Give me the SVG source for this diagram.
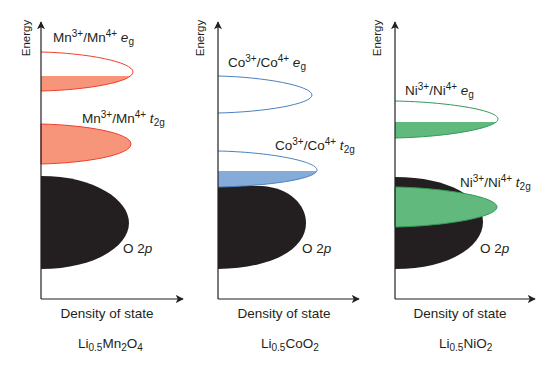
<svg xmlns="http://www.w3.org/2000/svg" width="552" height="368" viewBox="0 0 552 368">
<style>
text{font-family:"Liberation Sans",Arial,sans-serif;fill:#231f20}
.lbl{font-size:13.5px}
.en{font-size:11.5px}
.ax{stroke:#231f20;stroke-width:1.2;fill:none}
.red{stroke:#f0402e;stroke-width:1}
.blue{stroke:#4a80c2;stroke-width:1}
.green{stroke:#2f9a55;stroke-width:1}
.fred{fill:#f7957a}
.fblue{fill:#85acd9}
.fgreen{fill:#62b97d}
.dark{fill:#231f20}
.s{font-size:10px}
</style>
<defs>
<marker id="arr" viewBox="0 0 10 10" refX="9" refY="5" markerWidth="8" markerHeight="8" markerUnits="userSpaceOnUse" orient="auto">
<path d="M0,0 L10,5 L0,10 L2.5,5 Z" fill="#231f20"/>
</marker>
<clipPath id="c1"><rect x="0" y="76" width="200" height="20"/></clipPath>
<clipPath id="c2"><rect x="200" y="171" width="200" height="20"/></clipPath>
<clipPath id="c3"><rect x="380" y="122" width="200" height="20"/></clipPath>
</defs>

<g id="panel-mn">
<path class="dark" d="M41,176 C95,176 129,200 129,223 C129,246 95,269 41,269 Z"/>
<path class="fred" clip-path="url(#c1)" d="M41,52 C87,53 133,62 133,72 C133,82 87,90 41,91 Z"/>
<path class="red" fill="none" d="M41,52 C87,53 133,62 133,72 C133,82 87,90 41,91"/>
<path class="fred red" d="M41,124 C86,125 131,133 131,144 C131,155 86,163 41,164 Z"/>
<text class="lbl" x="53" y="42">Mn<tspan class="s" dy="-5">3+</tspan><tspan dy="5">/Mn</tspan><tspan class="s" dy="-5">4+</tspan><tspan dy="5"> </tspan><tspan font-style="italic">e</tspan><tspan class="s" dy="3">g</tspan></text>
<text class="lbl" x="82" y="123">Mn<tspan class="s" dy="-5">3+</tspan><tspan dy="5">/Mn</tspan><tspan class="s" dy="-5">4+</tspan><tspan dy="5"> </tspan><tspan font-style="italic">t</tspan><tspan class="s" dy="3">2g</tspan></text>
<text class="lbl" x="123" y="253">O 2<tspan font-style="italic">p</tspan></text>
<text class="lbl" x="107" y="318" text-anchor="middle">Density of state</text>
<text class="lbl" x="78" y="348">Li<tspan class="s" dy="3">0.5</tspan><tspan dy="-3">Mn</tspan><tspan class="s" dy="3">2</tspan><tspan dy="-3">O</tspan><tspan class="s" dy="3">4</tspan></text>
<text class="en" transform="translate(30,38) rotate(-90)" text-anchor="middle">Energy</text>
</g>

<g id="panel-co">
<path class="dark" d="M218,186 L262,186 C290,188 306,205 306,223 C306,248 275,268 218,269 Z"/>
<path class="blue" fill="none" d="M218,76 C265,77 312,86 312,95 C312,104 265,112 218,113"/>
<path class="fblue" clip-path="url(#c2)" d="M218,151 C268,152 317,161 317,170 C317,179 268,186 218,187 Z"/>
<path class="blue" fill="none" d="M218,151 C268,152 317,161 317,170 C317,179 268,186 218,187"/>
<text class="lbl" x="228" y="67">Co<tspan class="s" dy="-5">3+</tspan><tspan dy="5">/Co</tspan><tspan class="s" dy="-5">4+</tspan><tspan dy="5"> </tspan><tspan font-style="italic">e</tspan><tspan class="s" dy="3">g</tspan></text>
<text class="lbl" x="275" y="150">Co<tspan class="s" dy="-5">3+</tspan><tspan dy="5">/Co</tspan><tspan class="s" dy="-5">4+</tspan><tspan dy="5"> </tspan><tspan font-style="italic">t</tspan><tspan class="s" dy="3">2g</tspan></text>
<text class="lbl" x="302" y="253">O 2<tspan font-style="italic">p</tspan></text>
<text class="lbl" x="284" y="318" text-anchor="middle">Density of state</text>
<text class="lbl" x="261" y="348">Li<tspan class="s" dy="3">0.5</tspan><tspan dy="-3">CoO</tspan><tspan class="s" dy="3">2</tspan></text>
<text class="en" transform="translate(204,38) rotate(-90)" text-anchor="middle">Energy</text>
</g>

<g id="panel-ni">
<path class="dark" d="M395,177 C450,177 483,198 483,222 C483,246 450,269 395,269 Z"/>
<path class="fgreen" clip-path="url(#c3)" d="M395,101 C447,102 498,110 498,119 C498,128 447,137 395,138 Z"/>
<path class="green" fill="none" d="M395,101 C447,102 498,110 498,119 C498,128 447,137 395,138"/>
<path class="fgreen green" d="M395,187 C446,188 497,197 497,207 C497,217 446,226 395,227 Z"/>
<text class="lbl" x="405" y="95">Ni<tspan class="s" dy="-5">3+</tspan><tspan dy="5">/Ni</tspan><tspan class="s" dy="-5">4+</tspan><tspan dy="5"> </tspan><tspan font-style="italic">e</tspan><tspan class="s" dy="3">g</tspan></text>
<text class="lbl" x="460" y="187">Ni<tspan class="s" dy="-5">3+</tspan><tspan dy="5">/Ni</tspan><tspan class="s" dy="-5">4+</tspan><tspan dy="5"> </tspan><tspan font-style="italic">t</tspan><tspan class="s" dy="3">2g</tspan></text>
<text class="lbl" x="480" y="253">O 2<tspan font-style="italic">p</tspan></text>
<text class="lbl" x="460" y="318" text-anchor="middle">Density of state</text>
<text class="lbl" x="439" y="348">Li<tspan class="s" dy="3">0.5</tspan><tspan dy="-3">NiO</tspan><tspan class="s" dy="3">2</tspan></text>
<text class="en" transform="translate(381,38) rotate(-90)" text-anchor="middle">Energy</text>
</g>

<g id="connectors">
<path class="ax" d="M41,299 L41,22" marker-end="url(#arr)"/>
<path class="ax" d="M41,299 L183,299" marker-end="url(#arr)"/>
<path class="ax" d="M218,299 L218,22" marker-end="url(#arr)"/>
<path class="ax" d="M218,299 L359,299" marker-end="url(#arr)"/>
<path class="ax" d="M395,299 L395,22" marker-end="url(#arr)"/>
<path class="ax" d="M395,299 L535,299" marker-end="url(#arr)"/>
</g>
</svg>
